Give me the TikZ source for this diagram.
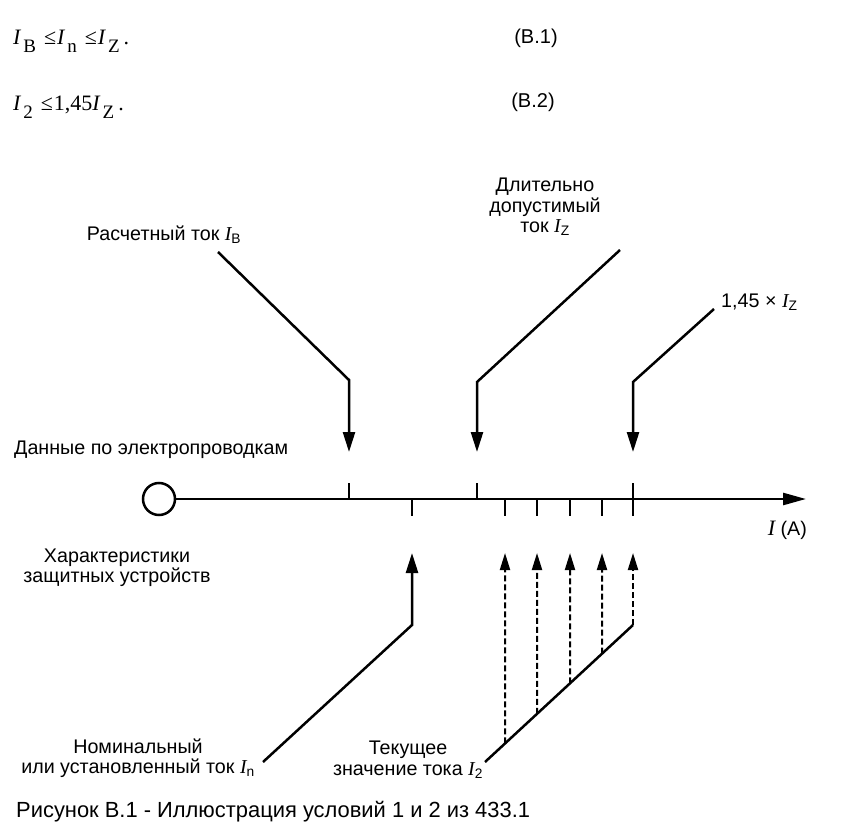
\documentclass[tikz,border=0pt]{standalone}
\usepackage{fontspec}
\setmainfont{Liberation Sans}
\newfontfamily\tnr{Liberation Serif}
\usetikzlibrary{arrows.meta,calc,positioning}
\newcommand\Isub[1]{{\tnr\itshape I}\textsubscript{#1}}
\newcommand\Ieq[1]{\textit{I}\hspace{2pt}\raisebox{-8pt}{\fontsize{19}{19}\selectfont#1}}

\begin{document}
\begin{tikzpicture}[
  x=1pt,y=-1pt,
  lbl/.style={font=\fontsize{19.7}{20.5}\selectfont,align=center,inner sep=0pt},
  eqn/.style={font=\tnr\fontsize{22}{24}\selectfont,anchor=base west,inner sep=0pt},
  eqno/.style={font=\fontsize{20}{22}\selectfont,inner sep=0pt},
  wire/.style={line width=2.5pt},
  arr/.style={line width=2.5pt,-{Triangle[length=20pt,width=12pt]}},
  darr/.style={line width=2pt,dash pattern=on 6pt off 3pt,-{Triangle[length=17pt,width=10pt]}},
  axtick/.style={line width=2.5pt}
]
\useasboundingbox[fill=white] (0,0) rectangle (845,834);

% equations
\node[eqn] (eq1) at (13,45) {\Ieq{B}\hspace{8pt}≤\hspace{1pt}\Ieq{n}\hspace{8pt}≤\hspace{1pt}\Ieq{Z}\hspace{4pt}.};
\node[eqno] (eq1n) at (536,38) {(B.1)};
\node[eqn] (eq2) at (13,111) {\Ieq{2}\hspace{8pt}≤\hspace{1pt}1,45\Ieq{Z}\hspace{4pt}.};
\node[eqno] (eq2n) at (533,102) {(B.2)};

% axis
\node[circle,draw,line width=2.5pt,minimum size=32pt,inner sep=0pt] (o) at (159,499) {};
\coordinate (iend) at (806,499);
\draw[line width=2.5pt,-{Triangle[length=23pt,width=12pt]}] (o.east) -- (iend);
\foreach \x in {349,477,633}
  \draw[axtick] (\x,483) -- (\x,499);
\foreach \x in {412,505,537,570,602,633}
  \draw[axtick] (\x,499) -- (\x,516);
\node[lbl,anchor=east] (ia) at (807,530) {{\tnr\itshape\fontsize{22}{22}\selectfont I} (A)};

% wiring data
\node[lbl,anchor=west] (wir) at (14,450) {Данные по электропроводкам};
\node[lbl] (ibl) at (164,235) {Расчетный ток \Isub{B}};
\node[lbl] (izl) at (545,207) {Длительно\\допустимый\\ток \Isub{Z}};
\node[lbl,anchor=west] (izz) at (721,302) {1,45 × \Isub{Z}};

\coordinate (ib0) at (218,252);
\coordinate (ib1) at (349,380);
\coordinate (ib2) at (349,452);
\draw[arr] (ib0) -- (ib1) -- (ib2);
\coordinate (iz0) at (620,250);
\coordinate (iz1) at (477,382);
\coordinate (iz2) at (477,452);
\draw[arr] (iz0) -- (iz1) -- (iz2);
\coordinate (ik0) at (714,309);
\coordinate (ik1) at (633,382);
\coordinate (ik2) at (633,452);
\draw[arr] (ik0) -- (ik1) -- (ik2);

% protective devices
\node[lbl] (prot) at (117,568) {Характеристики\\защитных устройств};
\node[lbl] (inl) at (138,758) {Номинальный\\или установленный ток \Isub{n}};
\node[lbl] (i2l) at (408,760) {Текущее\\значение тока \Isub{2}};

\coordinate (in0) at (263,762);
\coordinate (in1) at (412,625);
\coordinate (in2) at (412,553);
\draw[arr] (in0) -- (in1) -- (in2);

\coordinate (i20) at (485,762);
\coordinate (i21) at (633,625);
\draw[wire] (i20) -- (i21);
\foreach \x [count=\k] in {505,537,570,602,633} {
  \coordinate (up\k) at (\x,553);
  \draw[darr] ($(i20)!{(\x-485)/148}!(i21)$) -- (up\k);
}

% caption
\node[anchor=west,font=\fontsize{21.9}{24}\selectfont,inner sep=0pt] (cap) at (16,812) {Рисунок В.1 - Иллюстрация условий 1 и 2 из 433.1};
\end{tikzpicture}
\end{document}
